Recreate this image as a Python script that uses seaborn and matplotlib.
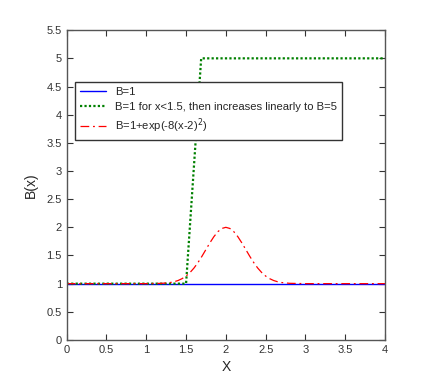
import pandas as pd
import matplotlib
matplotlib.use("Agg")
import matplotlib.pyplot as plt
import seaborn as sns

# curva B=1
x_const = [0, 4]
b_const = [1, 1]

# B=1 ate x=1.5, depois sobe linearmente ate B=5
x_ramp = [0, 1.5, 1.69, 4]
b_ramp = [1, 1, 5, 5]

# B=1+exp(-8(x-2)^2), valores
x_gauss = [0, 1.0, 1.2, 1.3, 1.35, 1.4, 1.45, 1.5, 1.55, 1.6, 1.65, 1.7, 1.75, 1.8, 1.85,
           1.9, 1.95, 2.0, 2.05, 2.1, 2.15, 2.2, 2.25, 2.3, 2.35, 2.4, 2.45, 2.5, 2.55,
           2.6, 2.65, 2.7, 2.8, 3.0, 4.0]
b_gauss = [1, 1.0003, 1.006, 1.020, 1.034, 1.056, 1.089, 1.135, 1.198, 1.278, 1.375, 1.487,
           1.607, 1.726, 1.835, 1.923, 1.980, 2.0, 1.980, 1.923, 1.835, 1.726, 1.607, 1.487,
           1.375, 1.278, 1.198, 1.135, 1.089, 1.056, 1.034, 1.020, 1.006, 1.0003, 1]

sns.set_style("ticks")
plt.rcParams["font.family"] = ["Liberation Sans", "DejaVu Sans"]

fig = plt.figure(figsize=(4.36, 3.82), dpi=100)
ax = fig.add_axes([0.153, 0.110, 0.730, 0.811])

sns.lineplot(x=x_const, y=b_const, ax=ax, color="blue", lw=1.0, label="B=1")
sns.lineplot(x=x_ramp, y=b_ramp, ax=ax, color="green", lw=1.6, linestyle=(0, (1, 1)),
             label="B=1 for x<1.5, then increases linearly to B=5")
sns.lineplot(x=x_gauss, y=b_gauss, ax=ax, color="red", lw=0.9, linestyle=(0, (7, 3, 1.5, 3)),
             label="B=1+exp(-8(x-2)$^2$)")

ax.set_xlim(0, 4)
ax.set_ylim(0, 5.5)
ax.set_xticks([0, 0.5, 1, 1.5, 2, 2.5, 3, 3.5, 4])
ax.set_xticklabels(["0", "0.5", "1", "1.5", "2", "2.5", "3", "3.5", "4"])
ax.set_yticks([0, 0.5, 1, 1.5, 2, 2.5, 3, 3.5, 4, 4.5, 5, 5.5])
ax.set_yticklabels(["0", "0.5", "1", "1.5", "2", "2.5", "3", "3.5", "4", "4.5", "5", "5.5"])
ax.tick_params(direction="in", top=True, right=True, labelsize=8, length=4, width=0.8, colors="#333333")
for s in ax.spines.values():
    s.set_visible(True)
    s.set_color("#555555")
    s.set_linewidth(1.0)
ax.set_xlabel("X", fontsize=10)
ax.set_ylabel("B(x)", fontsize=10, labelpad=6)

leg = ax.legend(loc="upper left", bbox_to_anchor=(0.026, 0.832), borderaxespad=0,
                fancybox=False, edgecolor="#333333", fontsize=8.1, handlelength=2.3,
                borderpad=0.45, labelspacing=0.4, framealpha=1)
leg.get_frame().set_linewidth(1.0)

plt.savefig("out.png", dpi=100)
